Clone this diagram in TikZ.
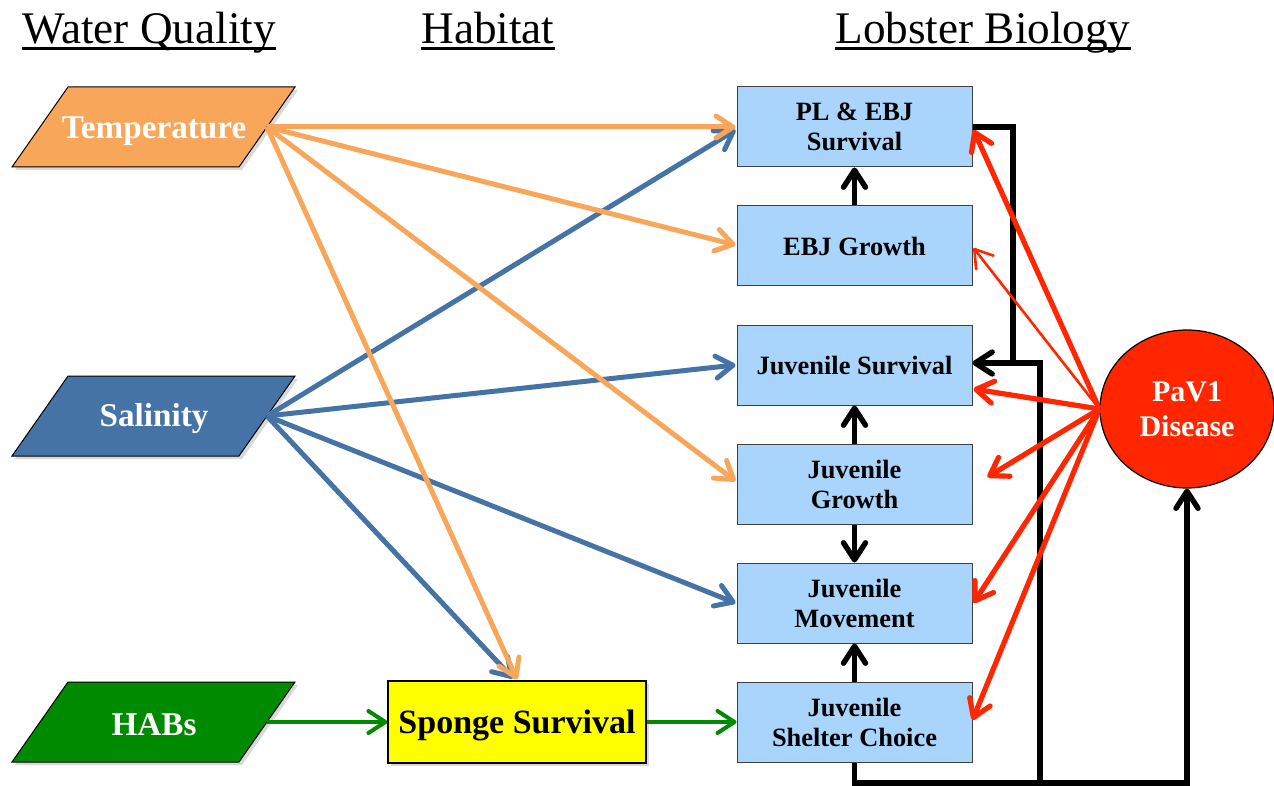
\documentclass[tikz,border=0pt]{standalone}
\usepackage{fontspec}
\setmainfont{Liberation Serif}
\usetikzlibrary{arrows.meta,shadows,shapes.geometric,calc}
\definecolor{orng}{RGB}{248,166,90}
\definecolor{blu}{RGB}{70,115,165}
\definecolor{grn}{RGB}{0,138,0}
\definecolor{lobc}{RGB}{169,212,251}
\definecolor{redd}{RGB}{255,38,0}
\definecolor{ylw}{RGB}{255,255,0}
\begin{document}
\begin{tikzpicture}[x=0.5pt,y=-0.5pt,
 arrowtip/.style={-{Straight Barb[length=8.5pt,width=11pt,round]}},
 lobbox/.style={draw=black!75,line width=0.5pt,fill=lobc,minimum width=117.5pt,minimum height=40pt,align=center,inner sep=0pt,text depth=0pt,font=\bfseries\fontsize{13.2}{15}\selectfont},
 para/.style={draw=black,line width=0.5pt,drop shadow={shadow xshift=1.5pt,shadow yshift=-1.5pt,opacity=0.3}},
 paratext/.style={text=white,inner sep=0pt,font=\bfseries\fontsize{16.6}{19}\selectfont},
 titletext/.style={anchor=base,inner sep=0pt,font=\fontsize{22.6}{26}\selectfont},
 uline/.style={line width=1.5pt},
 oarrow/.style={arrowtip,draw=orng,line width=2.5pt},
 barrow/.style={arrowtip,draw=blu,line width=2.5pt},
 garrow/.style={arrowtip,draw=grn,line width=2pt},
 karrow/.style={arrowtip,draw=black,line width=2.7pt},
 rarrow/.style={arrowtip,draw=redd,line width=2.6pt},
 rthin/.style={arrowtip,draw=redd,line width=1.3pt},
 kline/.style={draw=black,line width=2.7pt}]
\useasboundingbox (0,0) rectangle (1274,786);

% titles
\node[titletext] (wq) at (149,44) {Water Quality};
\node[titletext] (hab) at (488,44) {Habitat};
\node[titletext] (lb) at (983,44) {Lobster Biology};
\foreach \t in {wq,hab,lb}{
  \draw[uline] ([yshift=-2.4pt]\t.base west) -- ([yshift=-2.4pt]\t.base east);
}

% water quality parallelograms
\path[para,fill=orng] (12,167) -- (68,87) -- (295,87) -- (239,167) -- cycle;
\node[paratext] (temp) at (154,131) {Temperature};
\coordinate (tempR) at (267,127);

\path[para,fill=blu] (12,456) -- (68,376) -- (295,376) -- (239,456) -- cycle;
\node[paratext] (sal) at (154,419) {Salinity};
\coordinate (salR) at (267,416);

\path[para,fill=grn] (12,762) -- (68,682) -- (295,682) -- (239,762) -- cycle;
\node[paratext] (habs) at (154,725) {HABs};
\coordinate (habsR) at (267,722);

% habitat
\node[draw=black,line width=0.6pt,fill=ylw,minimum width=129pt,minimum height=41pt,inner sep=0pt,text depth=0pt,
  font=\bfseries\fontsize{17}{20}\selectfont,
  drop shadow={shadow xshift=1.5pt,shadow yshift=-1.5pt,opacity=0.3}] (sp) at (517,722) {Sponge Survival};

% lobster biology
\node[lobbox] (pl) at (854.5,127) {PL \& EBJ\\Survival};
\node[lobbox] (ebj) at (854.5,246) {EBJ Growth};
\node[lobbox] (js) at (854.5,365) {Juvenile Survival};
\node[lobbox] (jg) at (854.5,484) {Juvenile\\Growth};
\node[lobbox] (jm) at (854.5,603) {Juvenile\\Movement};
\node[lobbox] (sc) at (854.5,722) {Juvenile\\Shelter Choice};

% disease
\node[ellipse,draw=black,line width=0.6pt,fill=redd,minimum width=87pt,minimum height=79pt,inner sep=0pt,
  align=center,text=white,font=\bfseries\fontsize{15}{17.5}\selectfont] (pav) at (1187,409) {PaV1\\Disease};

% blue arrows
\draw[barrow] (salR) -- ($(pl.west)+(-1,3)$);
\draw[barrow] (salR) -- ($(js.west)+(-1,0)$);
\draw[barrow] (salR) -- ($(jm.west)+(-1,0)$);
\draw[barrow] (salR) -- ($(sp.north)+(-4,-2)$);

% orange arrows
\draw[oarrow] (tempR) -- ($(pl.west)+(-1,0)$);
\draw[oarrow] (tempR) -- ($(ebj.west)+(-1,-1)$);
\draw[oarrow] (tempR) -- ($(jg.west)+(-1,-3)$);
\draw[oarrow] (tempR) -- ($(sp.north)+(0,-1)$);

% green arrows
\draw[garrow] (habsR) -- (sp.west);
\draw[garrow] (sp.east) -- (sc.west);

% black arrows between lobster boxes
\draw[karrow] (ebj.north) -- (pl.south);
\draw[karrow] (jg.north) -- (js.south);
\draw[karrow] (jg.south) -- (jm.north);
\draw[karrow] (sc.north) -- (jm.south);

% black connectors
\coordinate (jA) at (1013,363);
\coordinate (jB) at (1040,783);
\draw[kline] (jA) -| (jB);
\draw[karrow] (pl.east) -| (jA) -- ($(js.east)+(0,-2)$);
\draw[karrow] (sc.south) |- (jB) -| (pav.south);

% red arrows
\draw[rarrow] (pav.west) -- ($(pl.east)+(1,3)$);
\draw[rthin] (pav.west) -- ($(ebj.east)+(1,2)$);
\draw[rarrow] (pav.west) -- ($(js.east)+(1,24)$);
\draw[rarrow] (pav.west) -- ($(jg.east)+(15,-7)$);
\draw[rarrow] (pav.west) -- ($(jm.east)+(1,0)$);
\draw[rarrow] (pav.west) -- ($(sc.east)+(0,-2)$);
\end{tikzpicture}
\end{document}
